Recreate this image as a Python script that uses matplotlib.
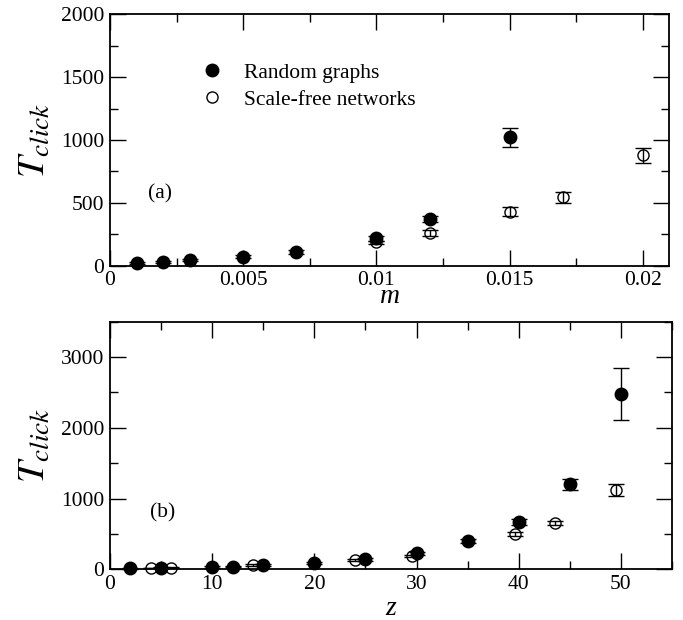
import numpy as np
import matplotlib
matplotlib.use("Agg")
import matplotlib.pyplot as plt
from matplotlib.lines import Line2D
from matplotlib.ticker import MultipleLocator, FuncFormatter

plt.rcParams['font.family'] = ['Liberation Serif', 'DejaVu Serif']
plt.rcParams['mathtext.fontset'] = 'stix'

# panel (a): T_click vs m
m_rg = [0.001, 0.002, 0.003, 0.005, 0.007, 0.010, 0.012, 0.015]
tm_rg = [24, 32, 45, 72, 111, 218, 371, 1020]
em_rg = [8, 8, 10, 12, 15, 20, 25, 78]
m_sf = [0.010, 0.012, 0.015, 0.017, 0.020]
tm_sf = [185, 260, 429, 543, 877]
em_sf = [15, 20, 35, 42, 58]

# panel (b): T_click vs z
z_rg = [2, 5, 10, 12, 15, 20, 25, 30, 35, 40, 45, 50]
tz_rg = [15, 20, 30, 37, 56, 94, 141, 226, 400, 673, 1201, 2478]
ez_rg = [8, 8, 10, 10, 12, 15, 20, 25, 30, 45, 82, 370]
z_sf = [4, 6, 14, 24, 29.6, 39.6, 43.5, 49.5]
tz_sf = [20, 25, 60, 131, 188, 499, 659, 1121]
ez_sf = [5, 5, 8, 12, 20, 35, 30, 85]

FS = 15.5

fig = plt.figure(figsize=(6.83, 6.2), dpi=100)
ax1 = fig.add_axes([0.161, 0.5715, 0.819, 0.4055])
ax2 = fig.add_axes([0.161, 0.0818, 0.823, 0.3992])


def draw(ax, x1, y1, e1, x2, y2, e2):
    ax.errorbar(x1, y1, yerr=e1, fmt='o', color='black', ms=9, capsize=6,
                elinewidth=1, capthick=1, clip_on=False, zorder=3)
    ax.errorbar(x2, y2, yerr=e2, fmt='o', color='black', mfc='none', ms=8,
                mew=1, capsize=6, elinewidth=1, capthick=1, clip_on=False, zorder=3)


def style(ax):
    ax.tick_params(which='both', direction='in', top=True, right=True,
                   labelsize=FS, width=1)
    ax.tick_params(which='major', length=11.5, pad=4)
    ax.tick_params(which='minor', length=5.5)
    for s in ax.spines.values():
        s.set_linewidth(1.3)


draw(ax1, m_rg, tm_rg, em_rg, m_sf, tm_sf, em_sf)
ax1.set_xlim(0, 0.021)
ax1.set_ylim(0, 2000)
ax1.xaxis.set_major_locator(MultipleLocator(0.005))
ax1.xaxis.set_minor_locator(MultipleLocator(0.0025))
ax1.yaxis.set_major_locator(MultipleLocator(500))
ax1.yaxis.set_minor_locator(MultipleLocator(250))
ax1.xaxis.set_major_formatter(FuncFormatter(lambda v, p: '%g' % round(v, 4)))
style(ax1)
ax1.set_xlabel('m', fontsize=20, fontstyle='italic', va='baseline')
ax1.xaxis.set_label_coords(0.5, -0.148)
ax1.set_ylabel('$T_{click}$', fontsize=28)
ax1.yaxis.set_label_coords(-0.1, 0.5)
ax1.text(0.089, 0.285, '(a)', transform=ax1.transAxes, fontsize=FS,
         ha='center', va='center')

handles = [Line2D([], [], ls='none', marker='o', color='black', ms=9),
           Line2D([], [], ls='none', marker='o', color='black', mfc='none', ms=8, mew=1)]
ax1.legend(handles, ['Random graphs', 'Scale-free networks'], loc='upper left',
           bbox_to_anchor=(0.164, 0.808), frameon=False, fontsize=FS,
           handlelength=1.0, handletextpad=0.98, labelspacing=0.33, borderpad=0,
           borderaxespad=0)

draw(ax2, z_rg, tz_rg, ez_rg, z_sf, tz_sf, ez_sf)
ax2.set_xlim(0, 55)
ax2.set_ylim(0, 3500)
ax2.xaxis.set_major_locator(MultipleLocator(10))
ax2.xaxis.set_minor_locator(MultipleLocator(5))
ax2.yaxis.set_major_locator(MultipleLocator(1000))
ax2.yaxis.set_minor_locator(MultipleLocator(500))
style(ax2)
ax2.set_xlabel('z', fontsize=20, fontstyle='italic', va='baseline')
ax2.xaxis.set_label_coords(0.5, -0.185)
ax2.set_ylabel('$T_{click}$', fontsize=28)
ax2.yaxis.set_label_coords(-0.1, 0.5)
ax2.text(0.094, 0.226, '(b)', transform=ax2.transAxes, fontsize=FS,
         ha='center', va='center')

fig.savefig('out.png', dpi=100)
